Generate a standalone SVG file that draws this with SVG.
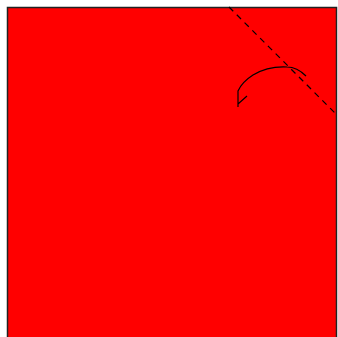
<svg xmlns="http://www.w3.org/2000/svg" width="338" height="337" viewBox="0 0 338 337">
<style>
.ln{fill:none;stroke:#000;stroke-width:1.2}
</style>
<rect width="338" height="337" fill="#fff"/>
<g id="panel">
<rect x="7.5" y="7.5" width="329" height="340" fill="#f00" stroke="#222" stroke-width="1.5"/>
</g>
<g id="connectors">
<line class="ln" x1="229" y1="7" x2="337" y2="115" stroke-dasharray="6,5"/>
<path class="ln" d="M306,76 Q297,67 287,67 Q268,66 253,75 Q242,82 238,91 L238,107 M238,104 L247,96"/>
</g>
</svg>
